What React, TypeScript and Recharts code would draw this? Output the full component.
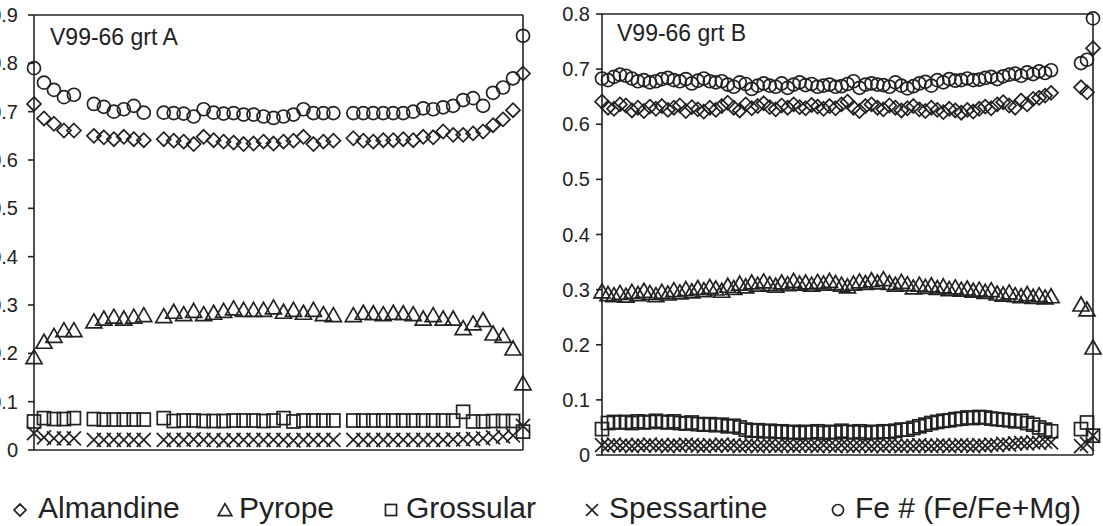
import { ScatterChart, Scatter, XAxis, YAxis, ReferenceLine } from "recharts";

// 左パネル (grt A) の測点位置。5, 12, 31 は欠測
const leftPos = [
  0, 1, 2, 3, 4,
  6, 7, 8, 9, 10, 11,
  13, 14, 15, 16, 17, 18, 19, 20, 21, 22, 23, 24, 25, 26, 27, 28, 29, 30,
  32, 33, 34, 35, 36, 37, 38, 39, 40, 41, 42, 43, 44, 45, 46, 47, 48, 49,
];
const leftAlmandine = [
  0.716, 0.686, 0.675, 0.661, 0.661,
  0.65, 0.647, 0.643, 0.648, 0.643, 0.641,
  0.643, 0.64, 0.638, 0.633, 0.648, 0.641, 0.638, 0.636, 0.633, 0.634, 0.638, 0.634, 0.638, 0.64, 0.648, 0.633, 0.638, 0.64,
  0.645, 0.64, 0.638, 0.641, 0.641, 0.643, 0.641, 0.648, 0.647, 0.659, 0.652, 0.652, 0.655, 0.659, 0.672, 0.684, 0.703, 0.779,
];
const leftPyrope = [
  0.192, 0.224, 0.236, 0.248, 0.248,
  0.266, 0.272, 0.276, 0.272, 0.276, 0.279,
  0.277, 0.286, 0.281, 0.288, 0.281, 0.284, 0.288, 0.293, 0.29, 0.29, 0.29, 0.295, 0.286, 0.29, 0.284, 0.29, 0.281, 0.279,
  0.279, 0.284, 0.283, 0.281, 0.284, 0.283, 0.281, 0.272, 0.279, 0.272, 0.272, 0.252, 0.262, 0.269, 0.241, 0.236, 0.21, 0.138,
];
const leftGrossular = [
  0.059, 0.066, 0.064, 0.064, 0.066,
  0.064, 0.063, 0.063, 0.063, 0.063, 0.063,
  0.066, 0.06, 0.061, 0.061, 0.06, 0.06, 0.06, 0.061, 0.061, 0.061, 0.06, 0.061, 0.066, 0.059, 0.061, 0.061, 0.061, 0.061,
  0.061, 0.061, 0.061, 0.061, 0.061, 0.061, 0.061, 0.061, 0.061, 0.061, 0.061, 0.079, 0.059, 0.059, 0.06, 0.06, 0.06, 0.038,
];
const leftSpessartine = [
  0.035, 0.026, 0.024, 0.024, 0.024,
  0.021, 0.021, 0.021, 0.021, 0.021, 0.021,
  0.021, 0.021, 0.021, 0.022, 0.021, 0.021, 0.02, 0.021, 0.021, 0.021, 0.021, 0.021, 0.021, 0.02, 0.021, 0.021, 0.021, 0.021,
  0.021, 0.021, 0.021, 0.021, 0.021, 0.021, 0.021, 0.021, 0.021, 0.021, 0.022, 0.022, 0.023, 0.024, 0.026, 0.028, 0.03, 0.05,
];
const leftFeNumber = [
  0.79, 0.76, 0.745, 0.73, 0.735,
  0.716, 0.71, 0.7, 0.705, 0.712, 0.698,
  0.698, 0.697, 0.696, 0.69, 0.705, 0.698, 0.696, 0.697, 0.694, 0.694, 0.69, 0.687, 0.69, 0.694, 0.705, 0.697, 0.697, 0.697,
  0.697, 0.697, 0.697, 0.697, 0.697, 0.697, 0.7, 0.707, 0.705, 0.709, 0.712, 0.724, 0.728, 0.712, 0.739, 0.75, 0.769, 0.857,
];

// 右パネル (grt B) の測点位置。76〜79 は欠測
const rightPos = [
  0, 1, 2, 3, 4, 5, 6, 7, 8, 9, 10, 11, 12, 13, 14, 15, 16, 17, 18, 19,
  20, 21, 22, 23, 24, 25, 26, 27, 28, 29, 30, 31, 32, 33, 34, 35, 36, 37, 38, 39,
  40, 41, 42, 43, 44, 45, 46, 47, 48, 49, 50, 51, 52, 53, 54, 55, 56, 57, 58, 59,
  60, 61, 62, 63, 64, 65, 66, 67, 68, 69, 70, 71, 72, 73, 74, 75,
  80, 81, 82,
];
const rightAlmandine = [
  0.641, 0.63, 0.628, 0.636, 0.634, 0.625, 0.63, 0.624, 0.632, 0.628,
  0.633, 0.626, 0.63, 0.634, 0.624, 0.631, 0.627, 0.623, 0.63, 0.626,
  0.633, 0.639, 0.63, 0.625, 0.636, 0.629, 0.633, 0.638, 0.631, 0.627,
  0.634, 0.63, 0.636, 0.631, 0.629, 0.635, 0.632, 0.628, 0.633, 0.629,
  0.636, 0.641, 0.63, 0.624, 0.633, 0.636, 0.63, 0.627, 0.634, 0.63,
  0.625, 0.629, 0.633, 0.627, 0.624, 0.63, 0.626, 0.622, 0.628, 0.625,
  0.621, 0.626, 0.623, 0.628, 0.632, 0.629, 0.636, 0.64, 0.634, 0.63,
  0.643, 0.636, 0.646, 0.648, 0.652, 0.657,
  0.667, 0.658, 0.738,
];
const rightPyrope = [
  0.297, 0.292, 0.29, 0.294, 0.289, 0.296, 0.292, 0.298, 0.294, 0.29,
  0.296, 0.293, 0.299, 0.295, 0.301, 0.297, 0.303, 0.299, 0.305, 0.302,
  0.298, 0.307, 0.303, 0.311, 0.306, 0.313, 0.309, 0.315, 0.31, 0.307,
  0.313, 0.31, 0.316, 0.311, 0.313, 0.309, 0.314, 0.311, 0.316, 0.312,
  0.309, 0.306, 0.311, 0.315, 0.312, 0.317, 0.313, 0.319, 0.312, 0.309,
  0.314, 0.31, 0.304, 0.309, 0.305, 0.308, 0.303, 0.306, 0.301, 0.304,
  0.3, 0.302, 0.298, 0.3, 0.296, 0.299, 0.293, 0.291, 0.295, 0.29,
  0.288, 0.292, 0.287, 0.29, 0.286, 0.288,
  0.273, 0.264, 0.195,
];
const rightGrossular = [
  0.047, 0.058, 0.06, 0.059, 0.06, 0.058, 0.061, 0.059, 0.06, 0.062,
  0.06, 0.059, 0.061, 0.058, 0.057, 0.059, 0.056, 0.055, 0.056, 0.054,
  0.055, 0.052, 0.053, 0.05, 0.046, 0.044, 0.045, 0.043, 0.044, 0.042,
  0.043, 0.041, 0.042, 0.04, 0.042, 0.041, 0.043, 0.04, 0.042, 0.041,
  0.044, 0.042, 0.041, 0.043, 0.04, 0.042, 0.041, 0.043, 0.042, 0.044,
  0.046, 0.046, 0.049, 0.052, 0.055, 0.058, 0.06, 0.062, 0.063, 0.065,
  0.066, 0.068, 0.067, 0.069, 0.068, 0.066, 0.065, 0.064, 0.063, 0.061,
  0.062, 0.058, 0.055, 0.05, 0.046, 0.043,
  0.047, 0.059, 0.035,
];
const rightSpessartine = [
  0.018, 0.017, 0.019, 0.017, 0.018, 0.016, 0.018, 0.017, 0.019, 0.017,
  0.018, 0.016, 0.018, 0.017, 0.019, 0.018, 0.017, 0.016, 0.018, 0.017,
  0.019, 0.017, 0.018, 0.016, 0.017, 0.018, 0.016, 0.017, 0.018, 0.016,
  0.017, 0.018, 0.016, 0.017, 0.018, 0.017, 0.016, 0.018, 0.017, 0.016,
  0.018, 0.017, 0.016, 0.017, 0.018, 0.016, 0.017, 0.016, 0.018, 0.017,
  0.016, 0.017, 0.016, 0.018, 0.017, 0.016, 0.017, 0.018, 0.016, 0.017,
  0.018, 0.017, 0.016, 0.018, 0.017, 0.019, 0.018, 0.02, 0.019, 0.021,
  0.022, 0.021, 0.023, 0.022, 0.024, 0.023,
  0.016, 0.02, 0.035,
];
const rightFeNumber = [
  0.683, 0.68, 0.686, 0.69, 0.688, 0.683, 0.678, 0.68, 0.676, 0.678,
  0.682, 0.684, 0.68, 0.678, 0.682, 0.674, 0.679, 0.683, 0.678, 0.676,
  0.678, 0.672, 0.668, 0.676, 0.673, 0.664, 0.67, 0.674, 0.67, 0.668,
  0.674, 0.666, 0.672, 0.676, 0.671, 0.673, 0.668, 0.67, 0.672, 0.668,
  0.669, 0.673, 0.678, 0.666, 0.672, 0.674, 0.672, 0.671, 0.668, 0.676,
  0.67, 0.665, 0.669, 0.674, 0.677, 0.67, 0.68, 0.676, 0.682, 0.679,
  0.68, 0.683, 0.68, 0.681, 0.684, 0.686, 0.682, 0.687, 0.69, 0.692,
  0.688, 0.694, 0.691, 0.696, 0.693, 0.698,
  0.711, 0.717, 0.792,
];

const leftTicks = [0, 0.1, 0.2, 0.3, 0.4, 0.5, 0.6, 0.7, 0.8, 0.9];
const rightTicks = [0, 0.1, 0.2, 0.3, 0.4, 0.5, 0.6, 0.7, 0.8];
const legendNames = ["Almandine", "Pyrope", "Grossular", "Spessartine", "Fe # (Fe/Fe+Mg)"];

const INK = "#222";
const SW = 1.7;
const FONT = "'Liberation Sans', Arial, sans-serif";

const toRows = (xs: number[], ys: number[]) => xs.map((x, i) => ({ x, y: ys[i] }));

// マーカー形状（Excel 風の白抜き記号）。s で大きさを変えられる
const diamond = ({ cx, cy, s = 1 }: any) => (
  <path d={`M${cx},${cy - 7 * s}L${cx + 7 * s},${cy}L${cx},${cy + 7 * s}L${cx - 7 * s},${cy}Z`} fill="none" stroke={INK} strokeWidth={SW} />
);
const triangle = ({ cx, cy, s = 1 }: any) => (
  <path d={`M${cx},${cy - 7.5 * s}L${cx + 8 * s},${cy + 6.5 * s}L${cx - 8 * s},${cy + 6.5 * s}Z`} fill="none" stroke={INK} strokeWidth={SW} />
);
const square = ({ cx, cy, s = 1 }: any) => (
  <rect x={cx - 6.5 * s} y={cy - 6.5 * s} width={13 * s} height={13 * s} fill="none" stroke={INK} strokeWidth={SW} />
);
const cross = ({ cx, cy, s = 1 }: any) => (
  <path d={`M${cx - 7 * s},${cy - 7 * s}L${cx + 7 * s},${cy + 7 * s}M${cx - 7 * s},${cy + 7 * s}L${cx + 7 * s},${cy - 7 * s}`} fill="none" stroke={INK} strokeWidth={SW} />
);
const circle = ({ cx, cy, s = 1 }: any) => <circle cx={cx} cy={cy} r={6.5 * s} fill="none" stroke={INK} strokeWidth={SW} />;

const shapes = [diamond, triangle, square, cross, circle];

function Panel({ pos, series, xMax, yMax, ticks, width, height, margin, yWidth, tickMargin }: any) {
  const axisLine = { stroke: INK, strokeWidth: 1.6 };
  return (
    <ScatterChart width={width} height={height} margin={margin}>
      <XAxis type="number" dataKey="x" domain={[0, xMax]} tick={false} tickLine={false} axisLine={axisLine} height={1} />
      <YAxis
        type="number"
        dataKey="y"
        domain={[0, yMax]}
        ticks={ticks}
        interval={0}
        width={yWidth}
        tickSize={6}
        tickMargin={tickMargin}
        tickLine={axisLine}
        axisLine={axisLine}
        tick={{ fill: INK, fontSize: 20, fontFamily: FONT }}
      />
      <ReferenceLine y={yMax} stroke={INK} strokeWidth={1.6} />
      <ReferenceLine x={xMax} stroke={INK} strokeWidth={1.6} />
      {series.map((ys: number[], i: number) => (
        <Scatter key={legendNames[i]} name={legendNames[i]} data={toRows(pos, ys)} shape={shapes[i]} isAnimationActive={false} />
      ))}
    </ScatterChart>
  );
}

const legendSymbolX = [20, 225, 391, 592, 838];
const legendTextX = [38, 239, 406, 609, 855];

export default function App() {
  return (
    <div style={{ position: "fixed", left: 0, top: 0, width: 1103, height: 526, background: "#fff", overflow: "hidden" }}>
      <div style={{ position: "absolute", left: 0, top: 0 }}>
        <Panel
          pos={leftPos}
          series={[leftAlmandine, leftPyrope, leftGrossular, leftSpessartine, leftFeNumber]}
          xMax={49}
          yMax={0.9}
          ticks={leftTicks}
          width={540}
          height={462}
          margin={{ top: 15, right: 17, bottom: 11, left: 0 }}
          yWidth={34}
          tickMargin={10}
        />
      </div>
      <div style={{ position: "absolute", left: 540, top: 0 }}>
        <Panel
          pos={rightPos}
          series={[rightAlmandine, rightPyrope, rightGrossular, rightSpessartine, rightFeNumber]}
          xMax={82}
          yMax={0.8}
          ticks={rightTicks}
          width={563}
          height={466}
          margin={{ top: 14, right: 10, bottom: 10, left: 0 }}
          yWidth={62}
          tickMargin={6}
        />
      </div>
      <svg width={1103} height={526} style={{ position: "absolute", left: 0, top: 0, pointerEvents: "none" }}>
        <text x={50} y={45} fontSize={23} fontFamily={FONT} fill={INK}>V99-66 grt A</text>
        <text x={617} y={41} fontSize={23} fontFamily={FONT} fill={INK}>V99-66 grt B</text>
        {legendNames.map((name, i) => (
          <g key={name}>
            {shapes[i]({ cx: legendSymbolX[i], cy: 510, s: 0.85 })}
            <text x={legendTextX[i]} y={518} fontSize={30} fontFamily={FONT} fill={INK}>{name}</text>
          </g>
        ))}
      </svg>
    </div>
  );
}
